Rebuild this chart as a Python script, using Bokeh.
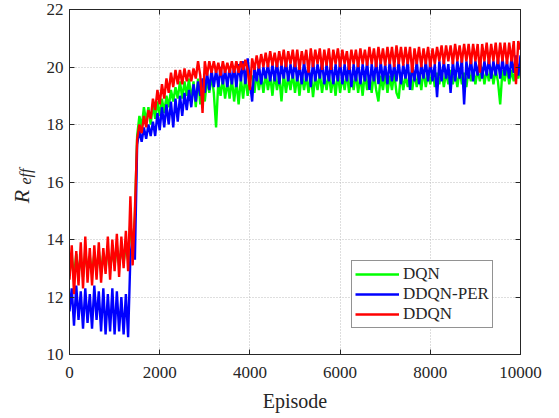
import math
from bokeh.plotting import figure
from bokeh.layouts import row
from bokeh.models import (ColumnDataSource, FixedTicker, LinearAxis, Range1d,
                          Label, CustomJSTickFormatter)
from bokeh.embed import file_html
from bokeh.resources import INLINE

# episode index (every 50 episodes)
episodes = list(range(0, 10001, 50))

# ---- DQN (green) ----
dqn_p1 = [12.8, 13.4, 12.7, 13.5, 12.8, 13.4, 12.7, 13.6, 12.9, 13.4,
          12.8, 13.5, 12.9, 13.6, 12.9, 13.5, 13.0, 13.7, 13.0, 13.6,
          13.1, 13.8, 13.1, 13.7, 13.2, 13.8, 13.3, 14.6, 13.6, 14.8]
dqn_p2 = [17.6, 18.3, 17.9, 18.6, 18.1, 18.6, 18.0, 18.7, 18.2, 18.8,
          18.3, 18.9, 18.4, 19.0, 18.6, 19.2, 18.8, 19.3, 18.9, 19.5,
          18.9, 19.5, 19.0, 19.6, 18.8, 19.5, 18.6, 19.6, 18.7, 19.5,
          18.8, 19.6, 19.1, 19.7, 19.1, 17.9, 19.5, 19.0, 19.6, 18.9,
          19.5, 18.9, 19.6, 18.8, 19.5, 18.7, 19.6, 18.9, 19.7, 19.0,
          19.6]
dqn_p3 = [19.7, 19.1, 19.8, 19.2, 19.7, 19.1, 19.8, 19.2, 19.7, 19.0,
          19.8, 19.2, 19.7, 18.8, 19.8, 19.1, 19.7, 19.2, 19.8, 19.1,
          19.7, 19.0, 19.8, 19.2, 19.7, 19.1, 19.8, 18.95, 19.7, 19.2,
          19.8, 19.1, 19.7, 19.2, 19.8, 19.1, 19.7, 19.0, 19.8, 19.1,
          19.7, 19.2, 19.8, 19.1, 19.7, 19.2, 19.8, 19.1, 19.7, 19.0,
          19.8, 19.2, 19.7, 19.1, 19.8, 19.2, 18.8, 19.7, 19.2, 19.8,
          19.1, 19.7, 19.2, 19.8, 19.1, 18.9, 19.8, 19.2, 19.7, 19.3,
          19.8, 19.2, 19.8, 19.3, 19.8, 19.2, 19.9, 19.3, 19.8, 19.4,
          19.9, 19.3, 19.8, 19.4, 19.9, 19.3, 19.8, 19.4, 19.9, 19.4,
          19.8, 19.3, 19.9, 19.4, 19.8, 19.3, 19.9, 19.5, 19.9, 19.4,
          19.9, 19.5, 20.0, 19.4, 19.9, 19.5, 20.0, 19.4, 19.9, 19.5,
          18.7, 19.9, 19.5, 20.0, 19.4, 19.9, 19.5, 20.0, 19.6, 20.0]

# ---- DDQN-PER (blue) ----
per_p1 = [11.5, 12.3, 11.0, 12.4, 11.2, 12.2, 10.9, 12.3, 11.1, 12.1,
          10.9, 12.4, 11.2, 12.2, 10.8, 12.3, 10.7, 12.1, 10.8, 12.3,
          10.7, 12.2, 10.8, 12.0, 10.7, 12.1, 10.6, 13.4, 14.1, 13.3]
per_p2 = [17.3, 17.8, 17.4, 17.9, 17.5, 18.0, 17.6, 18.1, 17.6, 18.4,
          17.8, 18.6, 17.9, 18.7, 18.0, 18.8, 17.9, 18.9, 18.1, 19.0,
          18.3, 19.1, 18.5, 19.2, 18.6, 19.4, 18.8, 19.5, 19.0, 19.6,
          19.1, 19.8, 19.2, 19.9, 19.3, 19.9, 19.3, 20.0, 19.4, 19.9,
          19.3, 20.0, 19.4, 20.0, 19.3, 20.1, 19.5, 20.2, 19.4, 20.3,
          19.5]
per_p3 = [18.8, 20.0, 19.5, 20.1, 19.4, 20.0, 19.6, 20.1, 19.5, 20.1,
          19.5, 20.2, 19.4, 20.1, 19.6, 20.2, 19.5, 20.1, 19.6, 20.2,
          19.5, 20.1, 19.4, 20.2, 19.5, 20.1, 19.3, 20.2, 19.5, 20.1,
          19.6, 20.2, 19.4, 20.1, 19.5, 20.2, 19.4, 20.1, 19.5, 20.2,
          19.4, 20.1, 19.5, 20.2, 19.3, 20.1, 19.5, 20.2, 19.4, 20.1,
          19.5, 20.2, 19.2, 20.1, 19.5, 20.2, 19.4, 20.2, 19.5, 20.1,
          19.4, 20.2, 19.5, 20.1, 19.5, 20.2, 19.4, 20.1, 19.6, 20.2,
          19.2, 20.1, 19.5, 20.2, 19.4, 20.1, 19.6, 20.2, 19.5, 20.2,
          19.5, 20.1, 18.95, 20.2, 19.5, 20.2, 19.6, 20.1, 19.1, 20.2,
          19.5, 20.2, 19.6, 20.3, 18.7, 20.2, 19.6, 20.3, 19.5, 20.2,
          19.7, 20.3, 19.6, 20.2, 19.7, 20.3, 19.6, 20.2, 19.7, 20.3,
          19.6, 20.3, 19.7, 20.2, 19.6, 20.3, 19.8, 20.4, 19.7, 20.4]

# ---- DDQN (red) ----
ddqn_p1 = [12.6, 13.8, 12.1, 13.6, 12.4, 13.9, 12.3, 14.1, 12.5, 13.7,
           12.4, 13.8, 12.6, 13.9, 12.5, 13.7, 12.8, 14.1, 12.6, 14.0,
           12.9, 14.2, 12.7, 14.1, 13.0, 14.3, 12.9, 15.5, 13.1, 15.0]
ddqn_p2 = [17.5, 18.0, 17.7, 18.3, 17.9, 18.5, 18.2, 18.9, 18.5, 19.2,
           18.7, 19.4, 18.9, 19.6, 19.1, 19.8, 19.3, 19.9, 19.4, 19.9,
           19.4, 19.95, 19.5, 19.9, 19.5, 19.95, 19.6, 20.2, 19.7, 18.4,
           20.2, 19.7, 20.2, 19.8, 20.2, 19.8, 20.15, 19.7, 20.2, 19.8,
           20.15, 19.8, 20.2, 19.8, 20.2, 19.8, 20.2, 19.9, 20.25, 19.9,
           19.2]
ddqn_p3 = [20.3, 19.9, 20.4, 19.95, 20.45, 20.0, 20.5, 20.0, 20.55, 20.05,
           20.5, 20.0, 20.55, 20.05, 20.6, 20.0, 20.55, 20.1, 20.6, 20.0,
           20.6, 19.9, 20.55, 20.1, 20.6, 19.8, 20.65, 20.0, 20.6, 20.1,
           20.65, 19.9, 20.6, 20.05, 20.65, 19.9, 20.6, 20.1, 20.65, 20.0,
           20.6, 20.1, 20.55, 19.9, 20.6, 20.1, 20.6, 20.0, 20.65, 20.1,
           20.6, 20.05, 20.7, 20.1, 20.65, 20.0, 20.7, 20.1, 20.65, 20.05,
           20.7, 20.1, 20.7, 20.0, 20.75, 20.1, 20.7, 20.05, 20.7, 20.1,
           20.7, 19.8, 20.65, 20.1, 20.7, 20.0, 20.65, 20.1, 20.7, 20.0,
           20.65, 20.1, 20.7, 20.2, 20.75, 20.1, 20.75, 20.2, 20.75, 20.1,
           20.8, 20.2, 20.75, 20.15, 20.8, 20.2, 20.8, 20.1, 20.8, 20.2,
           20.8, 19.8, 20.8, 20.2, 20.85, 20.1, 20.8, 20.2, 20.85, 20.1,
           20.85, 20.2, 20.85, 20.1, 20.85, 20.2, 20.9, 19.4, 20.9, 20.6]

dqn = dqn_p1 + dqn_p2 + dqn_p3
ddqn_per = per_p1 + per_p2 + per_p3
ddqn = ddqn_p1 + ddqn_p2 + ddqn_p3

x_ticks = [0, 2000, 4000, 6000, 8000, 10000]
y_ticks = [10, 12, 14, 16, 18, 20, 22]

src = ColumnDataSource(dict(ep=episodes, dqn=dqn, per=ddqn_per, ddqn=ddqn))

FONT = "Liberation Serif, serif"
TXT = "#262626"
LBL_W = 40  # width of the strip holding the rotated y label

p = figure(width=559 - LBL_W, height=418, output_backend="svg", toolbar_location=None,
           x_range=Range1d(0, 10000), y_range=Range1d(10, 22),
           min_border_left=69 - LBL_W, min_border_right=39, min_border_top=9,
           min_border_bottom=64)
p.background_fill_color = "white"
p.border_fill_color = "white"
p.outline_line_color = "#262626"
p.outline_line_width = 1

LW = 2.4
p.line("ep", "dqn", source=src, color="#00ff00", line_width=LW, legend_label="DQN")
p.line("ep", "per", source=src, color="#0000ff", line_width=LW, legend_label="DDQN-PER")
p.line("ep", "ddqn", source=src, color="#ff0000", line_width=LW, legend_label="DDQN")

for ax in (p.xaxis[0], p.yaxis[0]):
    ax.major_label_text_font = FONT
    ax.major_label_text_font_size = "17px"
    ax.major_label_text_color = TXT
    ax.axis_line_color = TXT
    ax.major_tick_line_color = TXT
    ax.major_tick_in = 5
    ax.major_tick_out = 0
    ax.minor_tick_line_color = None
    ax.major_label_standoff = 6
p.xaxis[0].major_label_standoff = 12

p.xaxis[0].ticker = FixedTicker(ticks=x_ticks)
p.yaxis[0].ticker = FixedTicker(ticks=y_ticks)
p.xaxis[0].axis_label = "Episode"
p.xaxis[0].axis_label_text_font = FONT
p.xaxis[0].axis_label_text_font_size = "20px"
p.xaxis[0].axis_label_text_font_style = "normal"
p.xaxis[0].axis_label_text_color = TXT
p.xaxis[0].axis_label_standoff = 9

blank = CustomJSTickFormatter(code="return ''")
top_ax = LinearAxis(ticker=FixedTicker(ticks=x_ticks), formatter=blank,
                    major_tick_in=5, major_tick_out=0, minor_tick_line_color=None,
                    axis_line_color=TXT, major_tick_line_color=TXT,
                    major_label_standoff=0)
right_ax = LinearAxis(ticker=FixedTicker(ticks=y_ticks), formatter=blank,
                      major_tick_in=5, major_tick_out=0, minor_tick_line_color=None,
                      axis_line_color=TXT, major_tick_line_color=TXT,
                      major_label_standoff=0)
p.add_layout(top_ax, "above")
p.add_layout(right_ax, "right")

p.xgrid.ticker = FixedTicker(ticks=x_ticks)
p.ygrid.ticker = FixedTicker(ticks=y_ticks)
for g in (p.xgrid[0], p.ygrid[0]):
    g.grid_line_color = "#bdbdbd"
    g.grid_line_dash = "1 2"
    g.grid_line_width = 1

lg = p.legend[0]
lg.location = (282, 26)
lg.border_line_color = TXT
lg.border_line_width = 1
lg.background_fill_color = "white"
lg.background_fill_alpha = 1
lg.label_text_font = FONT
lg.label_text_font_size = "17px"
lg.label_text_color = TXT
lg.glyph_width = 44
lg.glyph_height = 20
lg.label_height = 20
lg.label_standoff = 4
lg.spacing = 0
lg.padding = 3
lg.margin = 0

# narrow strip on the left carrying the y-axis label R_eff
# (its frame is aligned with the main frame: top at 9px, bottom at 354px)
lab = figure(width=LBL_W, height=418, output_backend="svg", toolbar_location=None,
             x_range=Range1d(0, 1), y_range=Range1d(0, 1),
             x_axis_location=None, y_axis_location=None,
             min_border_left=0, min_border_right=0, min_border_top=0, min_border_bottom=0)
lab.outline_line_color = None
lab.grid.visible = False
lab.background_fill_color = "white"
lab.border_fill_color = "white"
lab.add_layout(Label(x=21, y=354 - 196, x_units="screen", y_units="screen", text="R",
                     angle=math.pi / 2, text_align="center", text_baseline="middle",
                     text_font=FONT, text_font_size="22px", text_font_style="italic",
                     text_color=TXT))
lab.add_layout(Label(x=25, y=354 - 176, x_units="screen", y_units="screen", text="eff",
                     angle=math.pi / 2, text_align="center", text_baseline="middle",
                     text_font=FONT, text_font_size="16px", text_font_style="italic",
                     text_color=TXT))

layout = row(lab, p, spacing=0)
open("out.html", "w").write(file_html(layout, INLINE))
